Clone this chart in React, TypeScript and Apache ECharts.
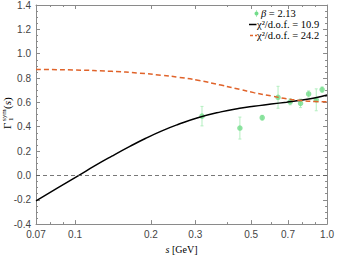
import React, { useEffect, useRef } from "react";
import * as echarts from "echarts";

// ---- data ----
const xMajorTicks = [0.07, 0.1, 0.2, 0.3, 0.5, 0.7, 1.0];
const xMajorLabels = ["0.07", "0.1", "0.2", "0.3", "0.5", "0.7", "1.0"];
const xMinorTicks = [0.08, 0.09, 0.4, 0.6, 0.8, 0.9];

const latticeS = [0.319, 0.451, 0.553, 0.639, 0.714, 0.785, 0.845, 0.906, 0.956];
const latticeVal = [0.487, 0.389, 0.474, 0.642, 0.605, 0.592, 0.669, 0.621, 0.705];
const latticeErr = [0.08, 0.09, 0.02, 0.09, 0.025, 0.035, 0.025, 0.09, 0.022];

const fitAS = [0.07, 0.085, 0.104, 0.12, 0.14, 0.165, 0.19, 0.22, 0.256, 0.307, 0.379, 0.45, 0.512, 0.6, 0.691, 0.8, 0.9, 1.0];
const fitAVal = [-0.21, -0.105, 0.003, 0.08, 0.158, 0.238, 0.303, 0.364, 0.418, 0.474, 0.522, 0.551, 0.568, 0.586, 0.602, 0.62, 0.638, 0.66];

const fitBS = [0.07, 0.1, 0.14, 0.18, 0.22, 0.26, 0.307, 0.379, 0.45, 0.512, 0.6, 0.691, 0.8, 0.9, 1.0];
const fitBVal = [0.871, 0.866, 0.855, 0.84, 0.823, 0.805, 0.782, 0.742, 0.707, 0.68, 0.653, 0.63, 0.614, 0.607, 0.605];

const legendLabels = ["β = 2.13", "χ²/d.o.f. = 10.9", "χ²/d.o.f. = 24.2"];

const SERIF = '"Liberation Serif", "DejaVu Serif", serif';
const SANS = '"Liberation Sans", Arial, sans-serif';
const AXIS_COLOR = "#8a8a8a";
const GREEN = "#72dc8a";
const GREEN_LIGHT = "#b4efc0";
const ORANGE = "#e0632a";

export default function App() {
  const ref = useRef<HTMLDivElement>(null);

  useEffect(() => {
    if (!ref.current) return;
    const chart = echarts.init(ref.current, undefined, { renderer: "svg" });
    const logMin = Math.log10(xMajorTicks[0]);
    const logMax = Math.log10(xMajorTicks[xMajorTicks.length - 1]);
    const majorLog = xMajorTicks.map((v) => Math.log10(v));
    const minorLog = xMinorTicks.map((v) => Math.log10(v));

    const tickAxisBase = (pos: "top" | "bottom") => ({
      type: "value",
      min: logMin,
      max: logMax,
      position: pos,
      splitLine: { show: false },
      axisLine: { show: true, onZero: false, lineStyle: { color: AXIS_COLOR, width: 1 } },
    });

    const yBase = (pos: "left" | "right", labels: boolean) => ({
      type: "value",
      min: -0.4,
      max: 1.4,
      interval: 0.2,
      position: pos,
      splitLine: { show: false },
      axisLine: { show: true, onZero: false, lineStyle: { color: AXIS_COLOR, width: 1 } },
      axisTick: { show: true, inside: true, length: 4, lineStyle: { color: AXIS_COLOR } },
      minorTick: { show: true, splitNumber: 4, length: 2, lineStyle: { color: AXIS_COLOR } },
      axisLabel: {
        show: labels,
        margin: 5,
        fontFamily: SANS,
        fontSize: 10,
        color: "#444",
        formatter: (v: number) => v.toFixed(1),
      },
    });

    const legendText = (text: string, x: number, y: number, rich?: any) => ({
      type: "text",
      x,
      y,
      style: {
        text,
        font: `10.5px ${SERIF}`,
        lineHeight: 10,
        fill: "#000",
        textVerticalAlign: "middle",
        verticalAlign: "middle",
        ...(rich ? { rich } : {}),
      },
    });

    const option: any = {
      animation: false,
      grid: { left: 36, right: 6, top: 4, bottom: 27 },
      xAxis: [
        {
          type: "log",
          logBase: 10,
          min: xMajorTicks[0],
          max: xMajorTicks[xMajorTicks.length - 1],
          show: false,
          position: "bottom",
          axisLine: { onZero: false },
        },
        {
          ...tickAxisBase("bottom"),
          axisTick: { show: true, inside: true, length: 4, customValues: majorLog, lineStyle: { color: AXIS_COLOR } },
          axisLabel: {
            show: true,
            customValues: majorLog,
            margin: 5,
            fontFamily: SANS,
            fontSize: 10,
            color: "#444",
            formatter: (v: number) => {
              const i = majorLog.findIndex((t) => Math.abs(t - v) < 1e-6);
              return i >= 0 ? xMajorLabels[i] : "";
            },
          },
          name: "{i|s} [GeV]",
          nameLocation: "middle",
          nameGap: 13,
          nameTextStyle: {
            fontFamily: SERIF,
            fontSize: 10,
            color: "#000",
            rich: { i: { fontFamily: SERIF, fontSize: 10, fontStyle: "italic", color: "#000" } },
          },
        },
        {
          ...tickAxisBase("bottom"),
          axisLine: { show: false, onZero: false },
          axisTick: { show: true, inside: true, length: 2, customValues: minorLog, lineStyle: { color: AXIS_COLOR } },
          axisLabel: { show: false },
        },
        {
          ...tickAxisBase("top"),
          axisTick: { show: true, inside: true, length: 4, customValues: majorLog, lineStyle: { color: AXIS_COLOR } },
          axisLabel: { show: false },
        },
        {
          ...tickAxisBase("top"),
          axisLine: { show: false, onZero: false },
          axisTick: { show: true, inside: true, length: 2, customValues: minorLog, lineStyle: { color: AXIS_COLOR } },
          axisLabel: { show: false },
        },
      ],
      yAxis: [yBase("left", true), yBase("right", false)],
      series: [
        {
          type: "custom",
          name: "errors",
          xAxisIndex: 0,
          yAxisIndex: 0,
          data: latticeS.map((s, i) => [s, latticeVal[i], latticeErr[i]]),
          encode: { x: 0, y: 1 },
          z: 2,
          renderItem: (params: any, api: any) => {
            const s = api.value(0);
            const v = api.value(1);
            const e = api.value(2);
            const top = api.coord([s, v + e]);
            const bot = api.coord([s, v - e]);
            const cap = 1.5;
            const style = { stroke: GREEN_LIGHT, lineWidth: 1 };
            return {
              type: "group",
              children: [
                { type: "line", shape: { x1: top[0], y1: top[1], x2: bot[0], y2: bot[1] }, style },
                { type: "line", shape: { x1: top[0] - cap, y1: top[1], x2: top[0] + cap, y2: top[1] }, style },
                { type: "line", shape: { x1: bot[0] - cap, y1: bot[1], x2: bot[0] + cap, y2: bot[1] }, style },
              ],
            };
          },
        },
        {
          type: "scatter",
          name: legendLabels[0],
          xAxisIndex: 0,
          yAxisIndex: 0,
          symbol: "circle",
          symbolSize: 5.5,
          itemStyle: { color: GREEN },
          z: 3,
          data: latticeS.map((s, i) => [s, latticeVal[i]]),
        },
        {
          type: "line",
          name: legendLabels[1],
          xAxisIndex: 0,
          yAxisIndex: 0,
          smooth: true,
          showSymbol: false,
          symbol: "none",
          lineStyle: { color: "#000", width: 1.5 },
          z: 4,
          data: fitAS.map((s, i) => [s, fitAVal[i]]),
          markLine: {
            silent: true,
            symbol: "none",
            label: { show: false },
            lineStyle: { color: "#555", width: 0.8, type: [4, 3] },
            data: [{ yAxis: 0 }],
          },
        },
        {
          type: "line",
          name: legendLabels[2],
          xAxisIndex: 0,
          yAxisIndex: 0,
          smooth: true,
          showSymbol: false,
          symbol: "none",
          lineStyle: { color: ORANGE, width: 1.5, type: [5, 3] },
          z: 4,
          data: fitBS.map((s, i) => [s, fitBVal[i]]),
        },
      ],
      graphic: [
        // y-axis title (rotated)
        {
          type: "group",
          x: 12,
          y: 129,
          rotation: Math.PI / 2,
          children: [
            { type: "text", x: 0, y: 0, style: { text: "Γ", font: `11px ${SERIF}`, fill: "#000", textVerticalAlign: "bottom", verticalAlign: "bottom" } },
            { type: "text", x: 8, y: 2, style: { text: "1", font: `7px ${SERIF}`, fill: "#000", textVerticalAlign: "bottom", verticalAlign: "bottom" } },
            { type: "text", x: 8, y: -5, style: { text: "sym", font: `7px ${SERIF}`, fill: "#000", textVerticalAlign: "bottom", verticalAlign: "bottom" } },
            {
              type: "text",
              x: 20,
              y: 0,
              style: {
                text: "({i|s})",
                font: `11px ${SERIF}`,
                fill: "#000",
                textVerticalAlign: "bottom",
                verticalAlign: "bottom",
                rich: { i: { fontStyle: "italic", fontSize: 11, fontFamily: SERIF } },
              },
            },
          ],
        },
        // legend
        { type: "line", shape: { x1: 256.5, y1: 10, x2: 256.5, y2: 17 }, style: { stroke: GREEN_LIGHT, lineWidth: 1 } },
        { type: "circle", shape: { cx: 256.5, cy: 13.5, r: 2 }, style: { fill: GREEN } },
        legendText("{i|β} = 2.13", 261, 13.5, { i: { fontStyle: "italic", fontSize: 10.5, fontFamily: SERIF, lineHeight: 10 } }),
        { type: "line", shape: { x1: 249, y1: 24.5, x2: 256.5, y2: 24.5 }, style: { stroke: "#000", lineWidth: 1.5 } },
        legendText(legendLabels[1], 257, 24.5),
        { type: "line", shape: { x1: 250, y1: 35.5, x2: 257, y2: 35.5 }, style: { stroke: ORANGE, lineWidth: 1.5, lineDash: [3, 2] } },
        legendText(legendLabels[2], 257, 35.5),
      ],
    };

    chart.setOption(option);
    return () => chart.dispose();
  }, []);

  return (
    <div
      ref={ref}
      style={{ position: "absolute", left: 0, top: 0, width: 337, height: 259, background: "#fff" }}
    />
  );
}
